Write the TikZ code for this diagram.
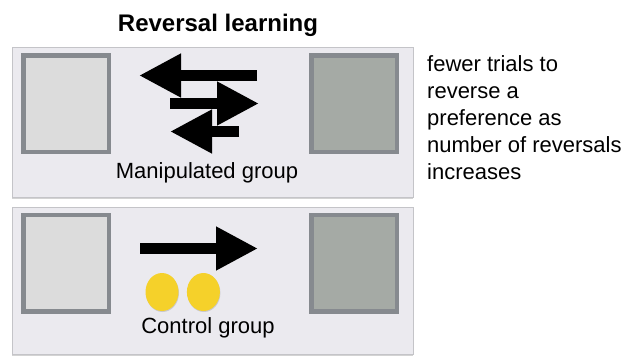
\documentclass[tikz,border=0pt]{standalone}
\usepackage{fontspec}
\setmainfont{Liberation Sans}
\usepackage{xcolor}
\usepackage{tikz}
\usetikzlibrary{arrows.meta,positioning,shapes,shadows}

\definecolor{panelbg}{HTML}{EBEAEF}
\definecolor{panelline}{HTML}{C4C4C8}
\definecolor{boxline}{HTML}{868A8F}
\definecolor{lightbox}{HTML}{DCDCDC}
\definecolor{darkbox}{HTML}{A5AAA5}
\definecolor{coinyellow}{HTML}{F5D12A}

\begin{document}
\begin{tikzpicture}[x=1pt,y=-1pt]
        \tikzstyle{panel} = [draw=panelline, fill=panelbg, line width=0.8pt, inner sep=0pt, anchor=north west, minimum width=401pt, minimum height=150pt, drop shadow={opacity=0.35, shadow xshift=0pt, shadow yshift=-1.5pt}]
        \tikzstyle{box} = [draw=boxline, line width=4.5pt, inner sep=0pt, minimum width=85.5pt, minimum height=96.5pt]
        \tikzstyle{bigarrow} = [line width=11pt, -{Triangle[length=42pt, width=41pt]}]
        \tikzstyle{coin} = [ellipse, fill=coinyellow, minimum width=33pt, minimum height=38pt, inner sep=0pt, drop shadow={opacity=0.3, shadow xshift=0.5pt, shadow yshift=-1pt}]
        \tikzstyle{label} = [font=\fontsize{22}{26}\selectfont]
        \useasboundingbox (0,0) rectangle (624,356);

        \node[font=\bfseries\fontsize{24}{28}\selectfont] (title) at (218,25) {Reversal learning};

        % manipulated group
        \node[panel] (manip) at (12,47) {};
        \node[box, fill=lightbox] (mleft) at (66,103.5) {};
        \node[box, fill=darkbox] (mright) at (354,103.5) {};
        \coordinate (a1s) at (257,75.5);
        \coordinate (a1e) at (139,75.5);
        \coordinate (a2s) at (170,103.5);
        \coordinate (a2e) at (259,103.5);
        \coordinate (a3s) at (239,131.5);
        \coordinate (a3e) at (170,131.5);
        \draw[bigarrow] (a1s) -- (a1e);
        \draw[bigarrow] (a2s) -- (a2e);
        \draw[bigarrow] (a3s) -- (a3e);
        \node[label] (mlabel) at (207,173) {Manipulated group};

        % control group
        \node[panel, minimum height=147pt] (ctrl) at (12,207) {};
        \node[box, fill=lightbox] (cleft) at (66,263) {};
        \node[box, fill=darkbox] (cright) at (354,263) {};
        \coordinate (c1s) at (140,248.5);
        \coordinate (c1e) at (258,248.5);
        \draw[bigarrow] (c1s) -- (c1e);
        \node[coin] (coin1) at (162,292) {};
        \node[coin, right = 8pt of coin1] (coin2) {};
        \node[label] (clabel) at (208,328) {Control group};

        \node[anchor=north west, align=left, inner sep=0pt, font=\fontsize{22}{27}\selectfont] (note) at (427,55) {fewer trials to\\reverse a\\preference as\\number of reversals\\increases};
\end{tikzpicture}
\end{document}
